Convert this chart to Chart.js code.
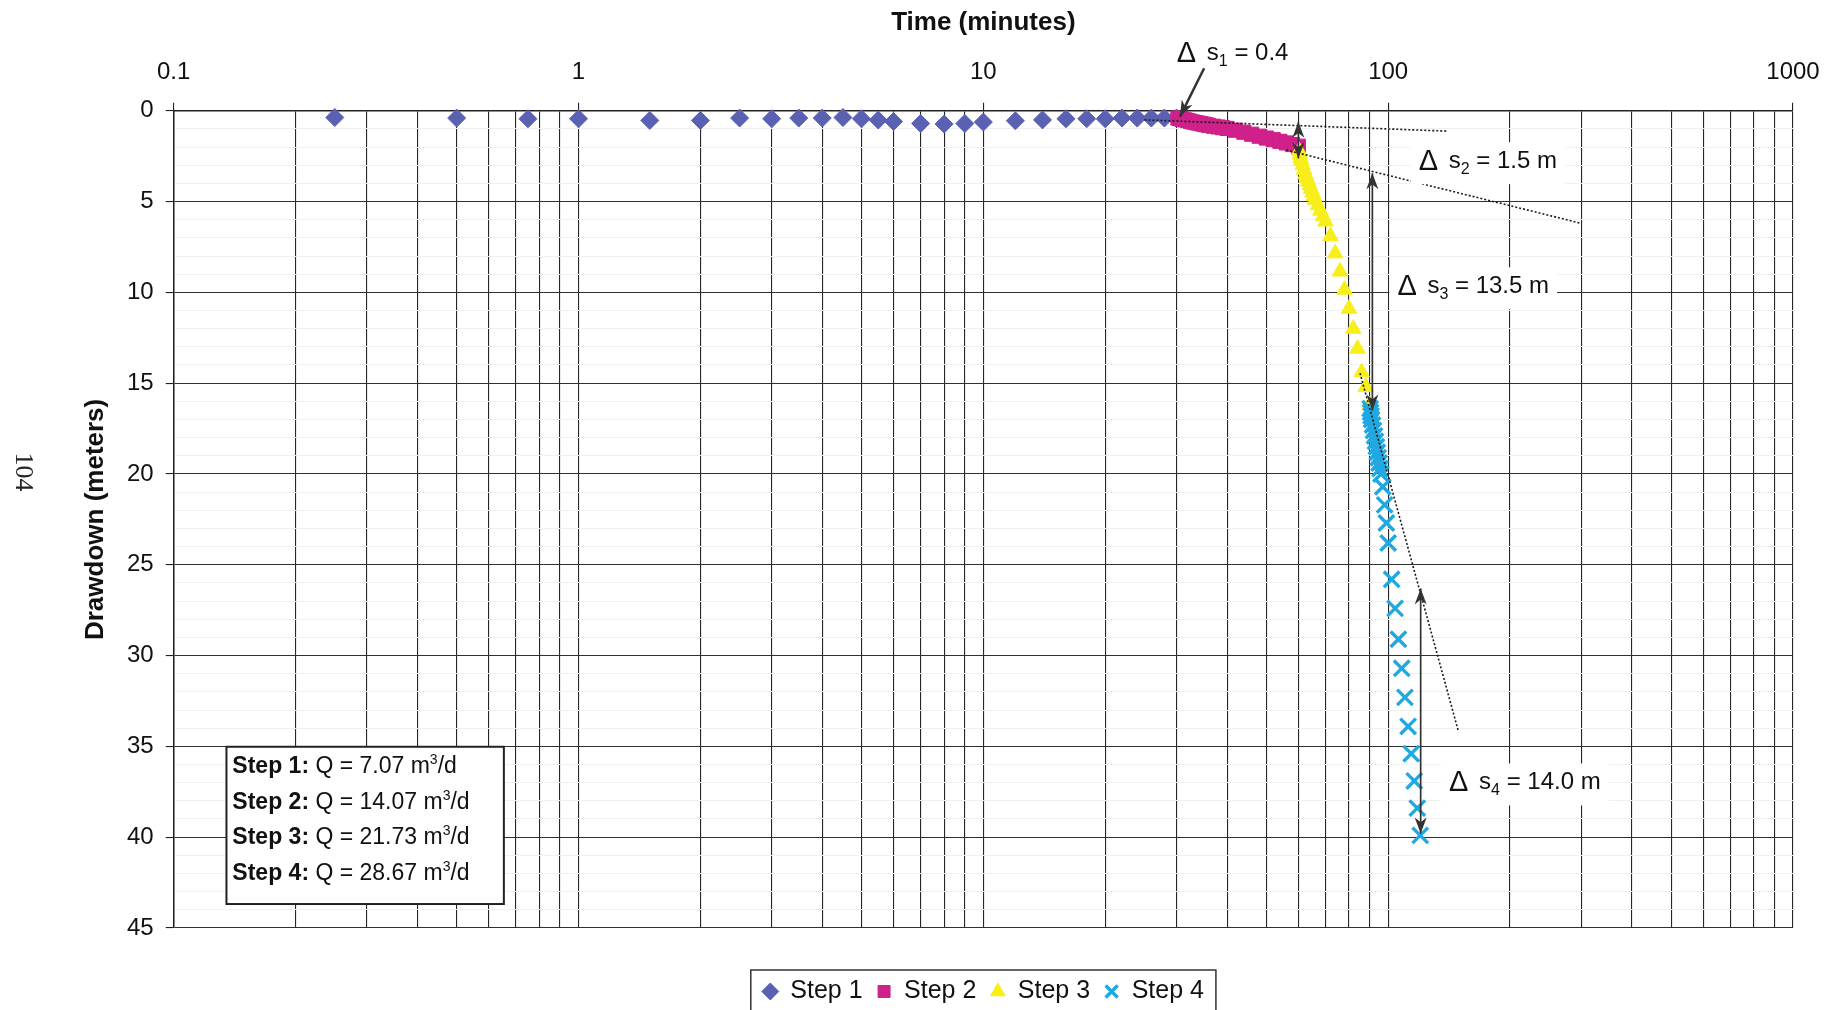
<!DOCTYPE html>
<html>
<head>
<meta charset="utf-8">
<title>Step drawdown test</title>
<script src="https://cdn.jsdelivr.net/npm/chart.js@4.4.1/dist/chart.umd.min.js"></script>
<style>
  html, body { margin: 0; padding: 0; background: #ffffff; }
  #wrap { width: 1828px; height: 1010px; }
</style>
</head>
<body>
<div id="wrap"><canvas id="stepChart" width="1828" height="1010"></canvas></div>
<script>
/* ============================================
   STEP DRAWDOWN TEST - DRAWDOWN VS LOG TIME
   ============================================ */

// Step 1
const step1Time = [0.25, 0.5, 0.75, 1, 1.5, 2, 2.5, 3, 3.5, 4, 4.5, 5, 5.5, 6, 7, 8, 9, 10, 12, 14, 16, 18, 20, 22, 24, 26, 28, 30];
const step1Drawdown = [0.37, 0.4, 0.44, 0.44, 0.53, 0.53, 0.4, 0.44, 0.4, 0.4, 0.37, 0.44, 0.51, 0.59, 0.7, 0.73, 0.7, 0.62, 0.55, 0.5, 0.44, 0.44, 0.44, 0.4, 0.4, 0.4, 0.4, 0.4];

// Step 2
const step2Time = [30.25, 30.5, 30.75, 31, 31.5, 32, 32.5, 33, 33.5, 34, 34.5, 35, 35.5, 36, 37, 38, 39, 40, 42, 44, 46, 48, 50, 52, 54, 56, 58, 60];
const step2Drawdown = [0.4, 0.42, 0.44, 0.46, 0.5, 0.54, 0.58, 0.62, 0.65, 0.68, 0.71, 0.74, 0.77, 0.8, 0.85, 0.89, 0.93, 0.97, 1.07, 1.18, 1.29, 1.4, 1.5, 1.59, 1.68, 1.77, 1.86, 1.95];

// Step 3
const step3Time = [60.25, 60.5, 60.75, 61, 61.5, 62, 62.5, 63, 63.5, 64, 64.5, 65, 65.5, 66, 67, 68, 69, 70, 72, 74, 76, 78, 80, 82, 84, 86, 88, 90];
const step3Drawdown = [2.2, 2.4, 2.6, 2.75, 3.0, 3.25, 3.5, 3.7, 3.9, 4.1, 4.3, 4.5, 4.7, 4.9, 5.2, 5.5, 5.8, 6.1, 6.9, 7.85, 8.85, 9.85, 10.9, 12.0, 13.1, 14.4, 15.2, 16.2];

// Step 4
const step4Time = [90.25, 90.5, 90.75, 91, 91.5, 92, 92.5, 93, 93.5, 94, 94.5, 95, 95.5, 96, 97, 98, 99, 100, 102, 104, 106, 108, 110, 112, 114, 116, 118, 120];
const step4Drawdown = [16.4, 16.6, 16.8, 17.0, 17.3, 17.6, 17.9, 18.2, 18.5, 18.8, 19.1, 19.4, 19.7, 20.0, 20.7, 21.7, 22.7, 23.8, 25.8, 27.4, 29.1, 30.7, 32.3, 33.9, 35.4, 36.9, 38.4, 39.9];

// Straight-line fits drawn dotted (time, drawdown)
const fit1Time = [25, 140];
const fit1Drawdown = [0.5, 1.12];
const fit2Time = [56, 300];
const fit2Drawdown = [2.16, 6.2];
const fit3Time = [85.2, 148.8];
const fit3Drawdown = [14.45, 34.1];

// Pumping rates per step
const stepNames = ['Step 1', 'Step 2', 'Step 3', 'Step 4'];
const pumpingRates = ['7.07', '14.07', '21.73', '28.67'];

// Drawdown increments
const deltaSubs = ['1', '2', '3', '4'];
const deltaValues = ['0.4', '1.5 m', '13.5 m', '14.0 m'];

// Axis ticks
const xTickLabels = ['0.1', '1', '10', '100', '1000'];
const decadeStarts = [0.1, 1, 10, 100];
const gridMultipliers = [1, 2, 3, 4, 5, 6, 7, 8, 9];
const yTickStep = 5;

const toPoints = (xs, ys) => xs.map((v, i) => ({ x: v, y: ys[i] }));

// Annotation anchors, in (time, drawdown) units
const deltaLabelAt = [
  { t: 30.06, d: -2.8, box: false },
  { t: 119, d: 3.16, box: true },
  { t: 105.4, d: 10.05, box: true },
  { t: 141.4, d: 37.37, box: true }
];
const deltaArrows = [
  { from: [35.1, -2.34], to: [30.6, 0.32], both: false },
  { from: [60, 0.6], to: [60, 2.62], both: true },
  { from: [91.4, 3.44], to: [91.4, 16.5], both: true },
  { from: [120.3, 26.3], to: [120.3, 39.8], both: true }
];
const rateBox = { t1: 0.135, d1: 35.02, t2: 0.654, d2: 43.68, textT: 0.1396, firstD: 36.48, stepD: 1.96 };

Chart.defaults.font.family = '"Liberation Sans", Arial, sans-serif';
Chart.defaults.color = '#111';

function arrowHead(ctx, x1, y1, x2, y2) {
  const ang = Math.atan2(y2 - y1, x2 - x1);
  const len = 16, half = 6;
  ctx.beginPath();
  ctx.moveTo(x2, y2);
  ctx.lineTo(x2 - len * Math.cos(ang) + half * Math.sin(ang), y2 - len * Math.sin(ang) - half * Math.cos(ang));
  ctx.lineTo(x2 - len * 0.7 * Math.cos(ang), y2 - len * 0.7 * Math.sin(ang));
  ctx.lineTo(x2 - len * Math.cos(ang) - half * Math.sin(ang), y2 - len * Math.sin(ang) + half * Math.cos(ang));
  ctx.closePath();
  ctx.fill();
}

function deltaParts(ctx, sub, rest) {
  ctx.font = '24px "Liberation Sans"';
  const sW = ctx.measureText('s').width;
  const restW = ctx.measureText(rest).width;
  ctx.font = '16px "Liberation Sans"';
  const subW = ctx.measureText(sub).width;
  return { sW, subW, restW, total: 30 + sW + subW + restW };
}

const annotationPlugin = {
  id: 'stepAnnotations',
  afterDatasetsDraw(chart) {
    const { ctx, scales: { x, y } } = chart;
    const px = t => x.getPixelForValue(t);
    const py = d => y.getPixelForValue(d);
    ctx.save();

    // arrows
    ctx.strokeStyle = '#333';
    ctx.fillStyle = '#333';
    deltaArrows.forEach((a, i) => {
      const x1 = px(a.from[0]), y1 = py(a.from[1]);
      const x2 = px(a.to[0]), y2 = py(a.to[1]);
      ctx.lineWidth = i === 0 ? 2.5 : 1.7;
      ctx.beginPath();
      ctx.moveTo(x1, y1);
      ctx.lineTo(x2, y2);
      ctx.stroke();
      arrowHead(ctx, x1, y1, x2, y2);
      if (a.both) arrowHead(ctx, x2, y2, x1, y1);
    });

    // delta labels
    deltaLabelAt.forEach((lab, i) => {
      const lx = px(lab.t), ly = py(lab.d);
      const m = deltaParts(ctx, deltaSubs[i], ' = ' + deltaValues[i]);
      if (lab.box) {
        ctx.fillStyle = '#fff';
        ctx.fillRect(lx - 8, ly - 26, m.total + 16, 42);
      }
      ctx.fillStyle = '#111';
      ctx.textAlign = 'left';
      ctx.textBaseline = 'alphabetic';
      ctx.font = '29px "Liberation Sans"';
      ctx.fillText('\u0394', lx, ly + 2);
      let cx = lx + 30;
      ctx.font = '24px "Liberation Sans"';
      ctx.fillText('s', cx, ly);
      cx += m.sW;
      ctx.font = '16px "Liberation Sans"';
      ctx.fillText(deltaSubs[i], cx, ly + 6);
      cx += m.subW;
      ctx.font = '24px "Liberation Sans"';
      ctx.fillText(' = ' + deltaValues[i], cx, ly);
    });

    // pumping rate box
    const bx1 = px(rateBox.t1), by1 = py(rateBox.d1);
    const bx2 = px(rateBox.t2), by2 = py(rateBox.d2);
    ctx.fillStyle = '#fff';
    ctx.fillRect(bx1, by1, bx2 - bx1, by2 - by1);
    ctx.strokeStyle = '#222';
    ctx.lineWidth = 2;
    ctx.strokeRect(bx1, by1, bx2 - bx1, by2 - by1);
    ctx.fillStyle = '#111';
    stepNames.forEach((name, i) => {
      const tx = px(rateBox.textT);
      const ty = py(rateBox.firstD + i * rateBox.stepD);
      ctx.font = 'bold 23px "Liberation Sans"';
      ctx.fillText(name + ':', tx, ty);
      let cx = tx + ctx.measureText(name + ':').width;
      ctx.font = '23px "Liberation Sans"';
      const main = ' Q = ' + pumpingRates[i] + ' m';
      ctx.fillText(main, cx, ty);
      cx += ctx.measureText(main).width;
      ctx.font = '14px "Liberation Sans"';
      ctx.fillText('3', cx, ty - 9);
      cx += ctx.measureText('3').width;
      ctx.font = '23px "Liberation Sans"';
      ctx.fillText('/d', cx, ty);
    });
    ctx.restore();
  },
  afterDraw(chart) {
    const { ctx } = chart;
    ctx.save();
    // frame around the legend
    const boxes = chart.legend.legendHitBoxes;
    if (boxes && boxes.length) {
      const first = boxes[0], last = boxes[boxes.length - 1];
      const left = first.left - 12;
      const right = last.left + last.width + 12;
      const top = first.top - 9;
      ctx.strokeStyle = '#333';
      ctx.lineWidth = 1.5;
      ctx.strokeRect(left, top, right - left, chart.height - top + 6);
    }
    // page number from the scanned report
    ctx.translate(23, 472);
    ctx.rotate(Math.PI / 2);
    ctx.font = '26px "Liberation Serif"';
    ctx.fillStyle = '#222';
    ctx.textAlign = 'center';
    ctx.textBaseline = 'middle';
    ctx.fillText('104', 0, 0);
    ctx.restore();
  }
};

const fitStyle = {
  showLine: true,
  pointRadius: 0,
  borderColor: '#1a1a1a',
  borderWidth: 1.6,
  borderDash: [2, 2],
  order: 0,
  clip: false
};

const ctx = document.getElementById('stepChart');
new Chart(ctx, {
  type: 'scatter',
  data: {
    datasets: [{
      label: stepNames[0],
      data: toPoints(step1Time, step1Drawdown),
      pointStyle: 'rectRot',
      pointRadius: 9,
      backgroundColor: '#5a60b2',
      borderColor: '#5a60b2',
      borderWidth: 1,
      order: 4,
      clip: false
    }, {
      label: stepNames[1],
      data: toPoints(step2Time, step2Drawdown),
      pointStyle: 'rect',
      pointRadius: 10,
      backgroundColor: '#d0208a',
      borderColor: '#d0208a',
      borderWidth: 1,
      order: 3,
      clip: false
    }, {
      label: stepNames[2],
      data: toPoints(step3Time, step3Drawdown),
      pointStyle: 'triangle',
      pointRadius: 9,
      backgroundColor: '#f8ee1a',
      borderColor: '#f8ee1a',
      borderWidth: 1,
      order: 2,
      clip: false
    }, {
      label: stepNames[3],
      data: toPoints(step4Time, step4Drawdown),
      pointStyle: 'crossRot',
      pointRadius: 11,
      backgroundColor: '#1fa8e1',
      borderColor: '#1fa8e1',
      borderWidth: 3.4,
      order: 1,
      clip: false
    },
    Object.assign({ label: 'fit1', data: toPoints(fit1Time, fit1Drawdown) }, fitStyle),
    Object.assign({ label: 'fit2', data: toPoints(fit2Time, fit2Drawdown) }, fitStyle),
    Object.assign({ label: 'fit3', data: toPoints(fit3Time, fit3Drawdown) }, fitStyle)]
  },
  options: {
    responsive: false,
    animation: false,
    events: [],
    layout: { padding: { left: 0, top: 0, right: 35, bottom: -4 } },
    plugins: {
      tooltip: { enabled: false },
      legend: {
        position: 'bottom',
        fullSize: false,
        labels: {
          font: { size: 25 },
          color: '#111',
          usePointStyle: true,
          boxWidth: 15,
          boxHeight: 12,
          padding: 14,
          filter: item => item.datasetIndex < 4,
          sort: (a, b) => a.datasetIndex - b.datasetIndex
        }
      }
    },
    scales: {
      x: {
        type: 'logarithmic',
        position: 'top',
        min: 0.1,
        max: 1000,
        afterBuildTicks: scale => {
          const vals = [];
          decadeStarts.forEach(d => gridMultipliers.forEach(m => vals.push(+(d * m).toPrecision(3))));
          vals.push(1000);
          scale.ticks = vals.map(v => ({ value: v, major: xTickLabels.includes(String(v)) }));
        },
        afterFit: scale => {
          scale.height = 110.8;
          scale.paddingLeft = 0;
          scale.paddingRight = 0;
        },
        title: {
          display: true,
          text: 'Time (minutes)',
          font: { size: 26, weight: 'bold' },
          color: '#111',
          padding: { top: 7, bottom: 0 }
        },
        ticks: {
          autoSkip: false,
          maxRotation: 0,
          padding: 16,
          font: { size: 24 },
          color: '#111',
          callback: v => xTickLabels.includes(String(v)) ? String(v) : ''
        },
        grid: {
          color: '#262626',
          lineWidth: 1.1,
          tickLength: 8,
          tickColor: c => (c.tick && c.tick.major) ? '#222' : 'rgba(0,0,0,0)'
        },
        border: { color: '#222', width: 1.5 }
      },
      y: {
        type: 'linear',
        position: 'left',
        reverse: true,
        min: 0,
        max: 45,
        afterFit: scale => { scale.width = 173.7; },
        title: {
          display: true,
          text: 'Drawdown (meters)',
          font: { size: 26, weight: 'bold' },
          color: '#111',
          padding: { top: 80, bottom: 0 }
        },
        ticks: {
          stepSize: 1,
          autoSkip: false,
          padding: 12,
          font: { size: 24 },
          color: '#111',
          callback: v => v % yTickStep === 0 ? v : ''
        },
        grid: {
          color: c => (c.tick && c.tick.value % yTickStep === 0) ? '#303030' : '#f0f0f0',
          lineWidth: 1.1,
          tickLength: 8,
          tickColor: c => (c.tick && c.tick.value % yTickStep === 0) ? '#222' : 'rgba(0,0,0,0)'
        },
        border: { color: '#222', width: 1.5 }
      },
      xb: {
        type: 'linear',
        position: 'bottom',
        display: true,
        ticks: { display: false },
        grid: { display: false, drawTicks: false },
        border: { display: false },
        afterFit: scale => {
          scale.height = 37;
          scale.paddingLeft = 0;
          scale.paddingRight = 0;
        }
      }
    }
  },
  plugins: [annotationPlugin]
});
</script>
</body>
</html>
